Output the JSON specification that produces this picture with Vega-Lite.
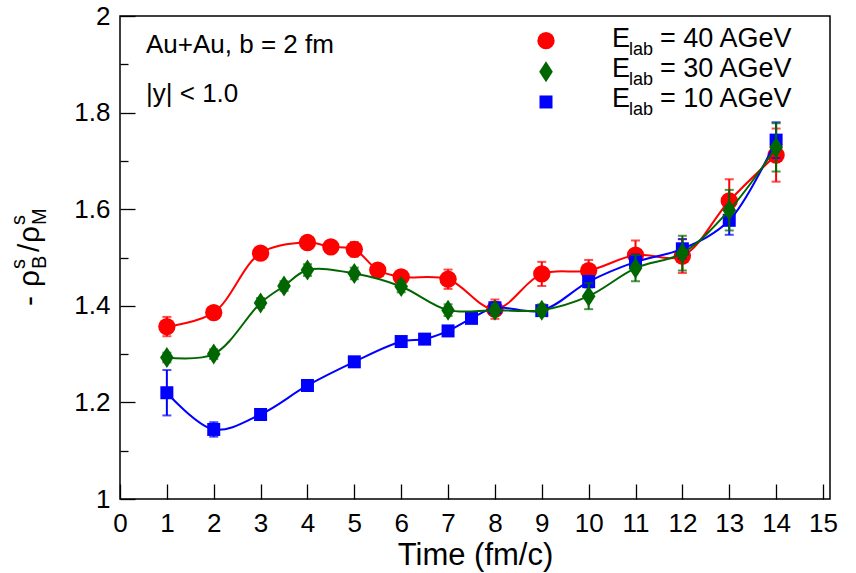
{
  "$schema": "https://vega.github.io/schema/vega-lite/v6.json",
  "width": 710,
  "height": 483,
  "autosize": {"type": "none"},
  "padding": {"left": 120, "top": 16, "right": 26, "bottom": 74},
  "background": "white",
  "config": {
    "font": "Liberation Sans",
    "view": {"stroke": "black", "strokeWidth": 1.5},
    "axis": {"labelFont": "Liberation Sans", "titleFont": "Liberation Sans", "labelColor": "black", "titleColor": "black", "tickColor": "black", "tickWidth": 1.3, "domain": false, "grid": false, "labelOverlap": false, "labelFlush": false}
  },
  "datasets": {
    "strangeness": [
      {"s": "40", "t": 1, "v": 1.357, "err": 0.02},
      {"s": "40", "t": 2, "v": 1.386, "err": 0.01},
      {"s": "40", "t": 3, "v": 1.509, "err": 0.01},
      {"s": "40", "t": 4, "v": 1.531, "err": 0.01},
      {"s": "40", "t": 4.5, "v": 1.522, "err": 0.01},
      {"s": "40", "t": 5, "v": 1.517, "err": 0.015},
      {"s": "40", "t": 5.5, "v": 1.474, "err": 0.01},
      {"s": "40", "t": 6, "v": 1.46, "err": 0.01},
      {"s": "40", "t": 7, "v": 1.455, "err": 0.02},
      {"s": "40", "t": 8, "v": 1.393, "err": 0.02},
      {"s": "40", "t": 9, "v": 1.466, "err": 0.025},
      {"s": "40", "t": 10, "v": 1.473, "err": 0.022},
      {"s": "40", "t": 11, "v": 1.505, "err": 0.03},
      {"s": "40", "t": 12, "v": 1.503, "err": 0.035},
      {"s": "40", "t": 13, "v": 1.617, "err": 0.045},
      {"s": "40", "t": 14, "v": 1.712, "err": 0.055},
      {"s": "10", "t": 1, "v": 1.22, "err": 0.047},
      {"s": "10", "t": 2, "v": 1.144, "err": 0.015},
      {"s": "10", "t": 3, "v": 1.175, "err": 0.006},
      {"s": "10", "t": 4, "v": 1.235, "err": 0.006},
      {"s": "10", "t": 5, "v": 1.284, "err": 0.006},
      {"s": "10", "t": 6, "v": 1.326, "err": 0.006},
      {"s": "10", "t": 6.5, "v": 1.331, "err": 0.006},
      {"s": "10", "t": 7, "v": 1.348, "err": 0.006},
      {"s": "10", "t": 7.5, "v": 1.374, "err": 0.006},
      {"s": "10", "t": 8, "v": 1.396, "err": 0.008},
      {"s": "10", "t": 9, "v": 1.39, "err": 0.008},
      {"s": "10", "t": 10, "v": 1.45, "err": 0.012},
      {"s": "10", "t": 11, "v": 1.491, "err": 0.015},
      {"s": "10", "t": 12, "v": 1.518, "err": 0.02},
      {"s": "10", "t": 13, "v": 1.577, "err": 0.03},
      {"s": "10", "t": 14, "v": 1.743, "err": 0.037},
      {"s": "30", "t": 1, "v": 1.293, "err": 0.01},
      {"s": "30", "t": 2, "v": 1.3, "err": 0.01},
      {"s": "30", "t": 3, "v": 1.406, "err": 0.01},
      {"s": "30", "t": 3.5, "v": 1.441, "err": 0.01},
      {"s": "30", "t": 4, "v": 1.474, "err": 0.012},
      {"s": "30", "t": 5, "v": 1.467, "err": 0.012},
      {"s": "30", "t": 6, "v": 1.44, "err": 0.012},
      {"s": "30", "t": 7, "v": 1.391, "err": 0.012},
      {"s": "30", "t": 8, "v": 1.391, "err": 0.012},
      {"s": "30", "t": 9, "v": 1.391, "err": 0.012},
      {"s": "30", "t": 10, "v": 1.42, "err": 0.027},
      {"s": "30", "t": 11, "v": 1.478, "err": 0.027},
      {"s": "30", "t": 12, "v": 1.509, "err": 0.036},
      {"s": "30", "t": 13, "v": 1.598, "err": 0.042},
      {"s": "30", "t": 14, "v": 1.728, "err": 0.05}
    ]
  },
  "data": {"name": "strangeness"},
  "layer": [
    {
      "encoding": {
        "x": {
          "field": "t",
          "type": "quantitative",
          "scale": {"domain": [0, 15.15], "nice": false, "zero": false},
          "axis": {
            "values": [0, 0.5, 1, 1.5, 2, 2.5, 3, 3.5, 4, 4.5, 5, 5.5, 6, 6.5, 7, 7.5, 8, 8.5, 9, 9.5, 10, 10.5, 11, 11.5, 12, 12.5, 13, 13.5, 14, 14.5, 15],
            "tickSize": {"condition": {"test": "datum.value % 1 === 0", "value": -15}, "value": -8},
            "labelExpr": "datum.value % 1 === 0 ? datum.label : ''",
            "format": "d",
            "labelPadding": 26,
            "labelFontSize": 26,
            "title": "Time (fm/c)",
            "titleFontSize": 31,
            "titleFontWeight": "normal",
            "titlePadding": 4
          }
        },
        "y": {
          "field": "v",
          "type": "quantitative",
          "scale": {"domain": [1, 2], "nice": false, "zero": false},
          "axis": {
            "values": [1, 1.05, 1.1, 1.15, 1.2, 1.25, 1.3, 1.35, 1.4, 1.45, 1.5, 1.55, 1.6, 1.65, 1.7, 1.75, 1.8, 1.85, 1.9, 1.95, 2],
            "tickSize": {"condition": {"test": "abs(datum.value * 5 - round(datum.value * 5)) < 1e-6", "value": -15}, "value": -8},
            "labelExpr": "abs(datum.value * 5 - round(datum.value * 5)) < 1e-6 ? datum.label : ''",
            "format": ".1~f",
            "labelPadding": 25,
            "labelFontSize": 26,
            "title": null
          }
        }
      },
      "layer": [
        {
          "transform": [{"filter": "datum.s === '40'"}],
          "layer": [
            {"mark": {"type": "line", "color": "#ff0000", "strokeWidth": 2, "interpolate": "catmull-rom"}},
            {"mark": {"type": "errorbar", "color": "#ff0000", "thickness": 2, "ticks": {"size": 9, "thickness": 2}}, "encoding": {"yError": {"field": "err"}}},
            {"mark": {"type": "point", "shape": "circle", "filled": true, "color": "#ff0000", "opacity": 1, "size": 300}}
          ]
        },
        {
          "transform": [{"filter": "datum.s === '10'"}],
          "layer": [
            {"mark": {"type": "line", "color": "#0000ff", "strokeWidth": 2, "interpolate": "catmull-rom"}},
            {"mark": {"type": "errorbar", "color": "#0000ff", "thickness": 2, "ticks": {"size": 9, "thickness": 2}}, "encoding": {"yError": {"field": "err"}}},
            {"mark": {"type": "point", "shape": "square", "filled": true, "color": "#0000ff", "opacity": 1, "size": 169}}
          ]
        },
        {
          "transform": [{"filter": "datum.s === '30'"}],
          "layer": [
            {"mark": {"type": "line", "color": "#006600", "strokeWidth": 2, "interpolate": "catmull-rom"}},
            {"mark": {"type": "errorbar", "color": "#006600", "thickness": 2, "ticks": {"size": 9, "thickness": 2}}, "encoding": {"yError": {"field": "err"}}},
            {"mark": {"type": "point", "shape": "M0,-1L0.65,0L0,1L-0.65,0Z", "filled": true, "color": "#006600", "opacity": 1, "size": 441}}
          ]
        }
      ]
    },
    {
      "data": {"values": [{}]},
      "mark": {"type": "text", "text": "Au+Au, b = 2 fm", "font": "Liberation Sans", "fontSize": 26, "align": "left", "baseline": "alphabetic", "color": "black"},
      "encoding": {"x": {"datum": 0.555}, "y": {"datum": 1.924}}
    },
    {
      "data": {"values": [{}]},
      "mark": {"type": "text", "text": "|y| < 1.0", "font": "Liberation Sans", "fontSize": 26, "align": "left", "baseline": "alphabetic", "color": "black"},
      "encoding": {"x": {"datum": 0.555}, "y": {"datum": 1.8226}}
    },
    {
      "data": {"values": [{}]},
      "mark": {"type": "point", "shape": "circle", "filled": true, "color": "#ff0000", "opacity": 1, "size": 300},
      "encoding": {"x": {"datum": 9.09}, "y": {"datum": 1.9489}}
    },
    {
      "data": {"values": [{}]},
      "mark": {"type": "point", "shape": "M0,-1L0.65,0L0,1L-0.65,0Z", "filled": true, "color": "#006600", "opacity": 1, "size": 441},
      "encoding": {"x": {"datum": 9.09}, "y": {"datum": 1.8847}}
    },
    {
      "data": {"values": [{}]},
      "mark": {"type": "point", "shape": "square", "filled": true, "color": "#0000ff", "opacity": 1, "size": 169},
      "encoding": {"x": {"datum": 9.09}, "y": {"datum": 1.822}}
    },
    {
      "data": {"values": [{}]},
      "layer": [
        {"mark": {"type": "text", "text": "E", "font": "Liberation Sans", "fontSize": 27, "align": "left", "baseline": "alphabetic", "color": "black"}},
        {"mark": {"type": "text", "text": "lab", "font": "Liberation Sans", "fontSize": 18, "align": "left", "baseline": "alphabetic", "color": "black", "dx": 17, "dy": 8}},
        {"mark": {"type": "text", "text": "= 40 AGeV", "font": "Liberation Sans", "fontSize": 27, "align": "left", "baseline": "alphabetic", "color": "black", "dx": 48}}
      ],
      "encoding": {"x": {"datum": 10.5}, "y": {"datum": 1.9358}}
    },
    {
      "data": {"values": [{}]},
      "layer": [
        {"mark": {"type": "text", "text": "E", "font": "Liberation Sans", "fontSize": 27, "align": "left", "baseline": "alphabetic", "color": "black"}},
        {"mark": {"type": "text", "text": "lab", "font": "Liberation Sans", "fontSize": 18, "align": "left", "baseline": "alphabetic", "color": "black", "dx": 17, "dy": 8}},
        {"mark": {"type": "text", "text": "= 30 AGeV", "font": "Liberation Sans", "fontSize": 27, "align": "left", "baseline": "alphabetic", "color": "black", "dx": 48}}
      ],
      "encoding": {"x": {"datum": 10.5}, "y": {"datum": 1.8737}}
    },
    {
      "data": {"values": [{}]},
      "layer": [
        {"mark": {"type": "text", "text": "E", "font": "Liberation Sans", "fontSize": 27, "align": "left", "baseline": "alphabetic", "color": "black"}},
        {"mark": {"type": "text", "text": "lab", "font": "Liberation Sans", "fontSize": 18, "align": "left", "baseline": "alphabetic", "color": "black", "dx": 17, "dy": 8}},
        {"mark": {"type": "text", "text": "= 10 AGeV", "font": "Liberation Sans", "fontSize": 27, "align": "left", "baseline": "alphabetic", "color": "black", "dx": 48}}
      ],
      "encoding": {"x": {"datum": 10.5}, "y": {"datum": 1.8116}}
    },
    {
      "data": {"values": [{}]},
      "layer": [
        {"mark": {"type": "text", "text": "-", "font": "Liberation Sans", "fontSize": 30, "angle": 270, "align": "left", "baseline": "alphabetic", "color": "black"}},
        {"mark": {"type": "text", "text": "ρ", "font": "Liberation Sans", "fontSize": 30, "angle": 270, "align": "left", "baseline": "alphabetic", "color": "black", "dx": 19}},
        {"mark": {"type": "text", "text": "s", "font": "Liberation Sans", "fontSize": 20, "angle": 270, "align": "left", "baseline": "alphabetic", "color": "black", "dx": 37, "dy": -14}},
        {"mark": {"type": "text", "text": "B", "font": "Liberation Sans", "fontSize": 20, "angle": 270, "align": "left", "baseline": "alphabetic", "color": "black", "dx": 37, "dy": 7}},
        {"mark": {"type": "text", "text": "/", "font": "Liberation Sans", "fontSize": 30, "angle": 270, "align": "left", "baseline": "alphabetic", "color": "black", "dx": 54}},
        {"mark": {"type": "text", "text": "ρ", "font": "Liberation Sans", "fontSize": 30, "angle": 270, "align": "left", "baseline": "alphabetic", "color": "black", "dx": 63}},
        {"mark": {"type": "text", "text": "s", "font": "Liberation Sans", "fontSize": 20, "angle": 270, "align": "left", "baseline": "alphabetic", "color": "black", "dx": 81, "dy": -14}},
        {"mark": {"type": "text", "text": "M", "font": "Liberation Sans", "fontSize": 20, "angle": 270, "align": "left", "baseline": "alphabetic", "color": "black", "dx": 81, "dy": 7}}
      ],
      "encoding": {"x": {"datum": -1.7286}, "y": {"datum": 1.3996}}
    }
  ]
}
